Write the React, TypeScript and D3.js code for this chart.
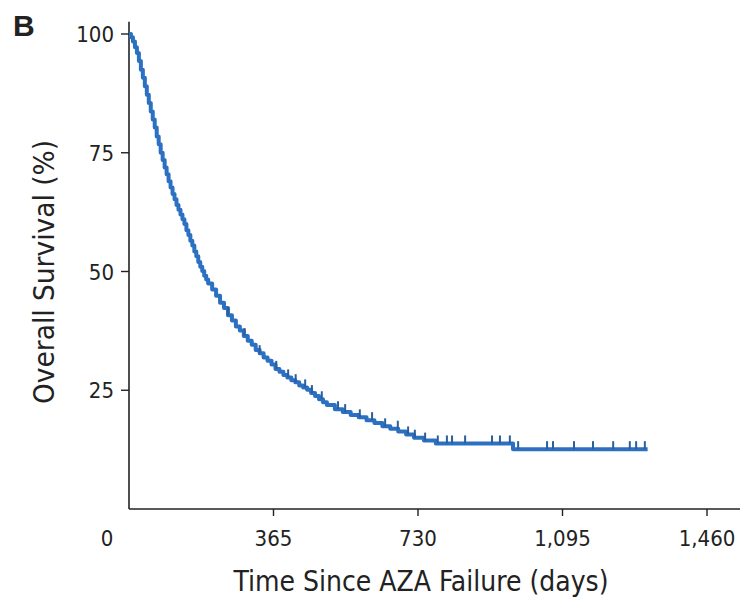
import * as d3 from 'd3'
import { useEffect, useRef } from 'react'

// Kaplan-Meier estimate (days, % alive)
const times = [
    0, 5, 10, 15, 20, 25, 30, 35, 40, 45, 50, 55, 60, 65, 70, 75, 80, 85, 90, 95,
    100, 105, 110, 115, 120, 125, 130, 135, 140, 145, 150, 155, 160, 165, 170, 175,
    180, 185, 190, 195, 200, 210, 220, 230, 240, 250, 260, 270, 280, 290, 300, 310,
    320, 330, 340, 350, 360, 370, 380, 390, 400, 410, 420, 430, 440, 450, 460, 470,
    480, 490, 500, 520, 540, 560, 580, 600, 620, 640, 660, 680, 700, 720, 745, 775,
    970, 1310,
]
const survival = [
    100, 99.3, 98.4, 97.2, 96, 94.3, 92.5, 90.8, 89, 87.2, 85.5, 83.7, 82, 80.3,
    78.4, 76.8, 75, 73.5, 71.9, 70.5, 69, 67.7, 66.3, 65.2, 64, 63, 62, 61, 60,
    58.7, 57.7, 56.5, 55.5, 54.2, 53.2, 52, 51, 50.1, 49.1, 48.3, 47.5, 46.2, 44.9,
    43.4, 42.3, 40.8, 39.7, 38.4, 37.6, 36.4, 35.4, 34.6, 33.5, 32.8, 31.9, 31.2,
    30.4, 29.5, 28.9, 28.2, 27.7, 27.1, 26.7, 26.0, 25.6, 25.1, 24.4, 23.8, 23.1,
    22.5, 21.9, 21.0, 20.4, 19.8, 19.3, 18.7, 18.1, 17.4, 16.9, 16.3, 15.7, 15.0,
    14.4, 13.8, 12.6, 12.6,
]
const censorTimes = [
    250, 292, 330, 372, 402, 421, 445, 462, 487, 528, 546, 583, 614, 647, 679, 705,
    722, 748, 780, 803, 816, 849, 917, 937, 962, 983, 1056, 1071, 1124, 1172, 1223,
    1265, 1281, 1303,
]
const xTicks = [365, 730, 1095, 1460]
const xTickLabels = ['365', '730', '1,095', '1,460']
const yTicks = [25, 50, 75, 100]

const narrow = '"Liberation Sans Narrow", "DejaVu Sans Condensed", sans-serif'
const blue = '#2C70C2'

function App() {
    const ref = useRef<SVGGElement>(null)

    useEffect(() => {
        const svg = d3.select(ref.current)
        svg.selectAll('*').remove()

        const x = d3.scaleLinear().domain([0, 1460]).range([129, 707])
        const y = d3.scaleLinear().domain([0, 100]).range([509, 34])

        // axes
        svg.append('line')
            .attr('x1', x(0)).attr('x2', 740)
            .attr('y1', y(0)).attr('y2', y(0))
            .attr('stroke', '#222').attr('stroke-width', 1.6)
        svg.append('line')
            .attr('x1', x(0)).attr('x2', x(0))
            .attr('y1', y(0)).attr('y2', y(102.6))
            .attr('stroke', '#222').attr('stroke-width', 1.6)

        const gx = svg.append('g')
        gx.selectAll('line')
            .data(xTicks)
            .enter()
            .append('line')
            .attr('x1', (d) => x(d)).attr('x2', (d) => x(d))
            .attr('y1', y(0)).attr('y2', y(0) + 7)
            .attr('stroke', '#222').attr('stroke-width', 1.4)
        gx.selectAll('text')
            .data(xTicks)
            .enter()
            .append('text')
            .attr('x', (d) => x(d))
            .attr('y', 546)
            .attr('text-anchor', 'middle')
            .attr('font-family', narrow)
            .attr('font-size', 22)
            .attr('fill', '#222')
            .text((d, i) => xTickLabels[i])
        svg.append('text')
            .attr('x', 107).attr('y', 546)
            .attr('text-anchor', 'middle')
            .attr('font-family', narrow)
            .attr('font-size', 22)
            .attr('fill', '#222')
            .text('0')

        const gy = svg.append('g')
        gy.selectAll('line')
            .data(yTicks)
            .enter()
            .append('line')
            .attr('x1', x(0) - 8).attr('x2', x(0))
            .attr('y1', (d) => y(d)).attr('y2', (d) => y(d))
            .attr('stroke', '#222').attr('stroke-width', 1.4)
        gy.selectAll('text')
            .data(yTicks)
            .enter()
            .append('text')
            .attr('x', 114)
            .attr('y', (d) => y(d) + 8)
            .attr('text-anchor', 'end')
            .attr('font-family', narrow)
            .attr('font-size', 22)
            .attr('fill', '#222')
            .text((d) => d)

        // survival curve
        const pts: [number, number][] = times.map((t, i) => [t, survival[i]])
        const line = d3
            .line<[number, number]>()
            .x((d) => x(d[0]))
            .y((d) => y(d[1]))
            .curve(d3.curveStepAfter)
        svg.append('path')
            .attr('d', line(pts))
            .attr('fill', 'none')
            .attr('stroke', blue)
            .attr('stroke-width', 4)
            .attr('stroke-linejoin', 'round')

        const survAt = (t: number) => survival[Math.max(0, d3.bisectRight(times, t) - 1)]
        svg.append('g')
            .selectAll('line')
            .data(censorTimes)
            .enter()
            .append('line')
            .attr('x1', (d) => x(d)).attr('x2', (d) => x(d))
            .attr('y1', (d) => y(survAt(d)))
            .attr('y2', (d) => y(survAt(d)) - 8)
            .attr('stroke', '#2A5E9E')
            .attr('stroke-width', 2)
    }, [])

    return (
        <svg
            width={742}
            height={597}
            style={{ position: 'absolute', left: 0, top: 0, background: '#fff' }}
        >
            <text x="13" y="36" fontFamily="Liberation Sans, Arial, sans-serif" fontWeight="bold" fontSize="30" fill="#222">
                B
            </text>
            <text
                x="0"
                y="0"
                transform="translate(54, 272) rotate(-90)"
                textAnchor="middle"
                fontFamily={narrow}
                fontSize="28"
                textLength="264"
                lengthAdjust="spacingAndGlyphs"
                fill="#222"
            >
                Overall Survival (%)
            </text>
            <text
                x="421"
                y="591"
                textAnchor="middle"
                fontFamily={narrow}
                fontSize="28"
                textLength="375"
                lengthAdjust="spacingAndGlyphs"
                fill="#222"
            >
                Time Since AZA Failure (days)
            </text>
            <g ref={ref} />
        </svg>
    )
}

export default App
